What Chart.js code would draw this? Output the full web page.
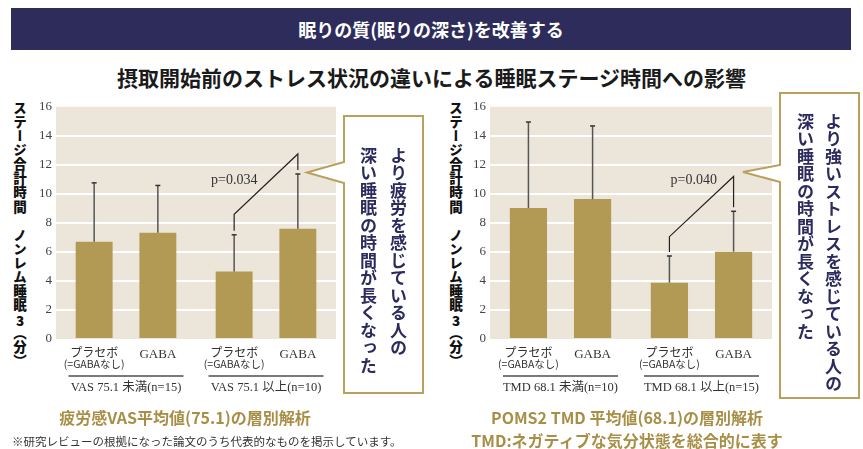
<!DOCTYPE html>
<html>
<head>
<meta charset="utf-8">
<script src="https://cdn.jsdelivr.net/npm/chart.js@4.4.1/dist/chart.umd.min.js"></script>
<style>
  body { margin: 0; width: 863px; height: 449px; background: #fff; position: relative; overflow: hidden;
         font-family: "Noto Sans CJK JP", sans-serif; }
  .abs { position: absolute; }
  #banner { left: 11px; top: 8px; width: 840px; height: 42px; background: #2d2c5b; color: #fff;
            font-weight: 700; font-size: 18px; line-height: 42px; text-align: center; }
  #sub { left: 0; top: 63px; width: 863px; text-align: center; font-weight: 700; font-size: 21px;
         line-height: 28px; color: #1a1a1a; }
  .ytitle { writing-mode: vertical-rl; font-weight: 900; font-size: 13.5px; line-height: 15px;
            letter-spacing: 0.6px; color: #111; top: 101px; white-space: nowrap; }
  .up { text-combine-upright: all; }
  .box { width: 310px; height: 305px; top: 95px; }
  .note { writing-mode: vertical-rl; font-weight: 700; font-size: 17px; color: #2c2b5e;
          letter-spacing: 0.5px; white-space: nowrap; }
  .gold { text-align: center; font-weight: 700; font-size: 16px; color: #a88f47; line-height: 22px; }
  #foot { left: 12px; top: 433px; font-size: 11.5px; color: #333; line-height: 16px; white-space: nowrap; }
  svg { position: absolute; left: 0; top: 0; }
</style>
</head>
<body>
<div id="banner" class="abs">眠りの質(眠りの深さ)を改善する</div>
<div id="sub" class="abs">摂取開始前のストレス状況の違いによる睡眠ステージ時間への影響</div>

<div class="abs ytitle" style="left:12px">ステージ合計時間　ノンレム睡眠<span class="up">3</span>（分）</div>
<div class="abs ytitle" style="left:448px">ステージ合計時間　ノンレム睡眠<span class="up">3</span>（分）</div>

<div class="abs box" style="left:30px"><canvas id="leftChart"></canvas></div>
<div class="abs box" style="left:464px"><canvas id="rightChart"></canvas></div>

<svg width="863" height="449">
  <path d="M344,116 L423,116 L423,393 L344,393 L344,183 L307,172.5 L344,162 Z" fill="#fff" stroke="#b9a05c" stroke-width="2"/>
  <path d="M780,93 L859,93 L859,398 L780,398 L780,182 L743,172 L780,165 Z" fill="#fff" stroke="#b9a05c" stroke-width="2"/>
</svg>
<div class="abs note" style="left:353px;top:147px;line-height:30px">より疲労を感じている人の<br>深い睡眠の時間が長くなった</div>
<div class="abs note" style="left:791px;top:113px;line-height:28px">より強いストレスを感じている人の<br>深い睡眠の時間が長くなった</div>

<div class="abs gold" style="left:0;top:406px;width:370px">疲労感VAS平均値(75.1)の層別解析</div>
<div class="abs gold" style="left:427px;top:406px;width:400px">POMS2 TMD 平均値(68.1)の層別解析</div>
<div class="abs gold" style="left:427px;top:429px;width:400px">TMD:ネガティブな気分状態を総合的に表す</div>
<div id="foot" class="abs">※研究レビューの根拠になった論文のうち代表的なものを掲示しています。</div>

<script>
// data
const barNames = ["プラセボ", "GABA"];
const placeboNote = "(=GABAなし)";

const leftGroups = ["VAS 75.1 未満(n=15)", "VAS 75.1 以上(n=10)"];
const leftPlacebo = [6.70, 4.65];
const leftPlaceboSD = [4.06, 2.53];
const leftGaba = [7.32, 7.59];
const leftGabaSD = [3.26, 3.78];
const leftP = { index: 1, text: "p=0.034", low: 8.6, high: 12.75, labelAt: 10.9 };

const rightGroups = ["TMD 68.1 未満(n=10)", "TMD 68.1 以上(n=15)"];
const rightPlacebo = [9.03, 3.88];
const rightPlaceboSD = [5.92, 1.84];
const rightGaba = [9.64, 6.02];
const rightGabaSD = [5.04, 2.78];
const rightP = { index: 1, text: "p=0.040", low: 7.05, high: 11.2, labelAt: 10.9 };

const yMin = 0, yMax = 16, yStep = 2;

const barColor = "#b29a55";
const plotColor = "#ece6da";
const serif = '"Liberation Serif", "Times New Roman", serif';
const jp = '"Noto Sans CJK JP", sans-serif';

const plotBg = {
  id: "plotBg",
  beforeDraw(chart) {
    const a = chart.chartArea, c = chart.ctx;
    c.save();
    c.fillStyle = plotColor;
    c.fillRect(a.left, a.top, a.right - a.left, a.bottom - a.top);
    c.restore();
  }
};

function extras(p) {
  return {
    id: "extras",
    afterDatasetsDraw(chart) {
      const c = chart.ctx, y = chart.scales.y;
      const tops = [];
      c.save();
      chart.data.datasets.forEach((ds, di) => {
        tops[di] = [];
        chart.getDatasetMeta(di).data.forEach((bar, i) => {
          const yt = y.getPixelForValue(ds.data[i] + ds.sd[i]);
          tops[di][i] = yt;
          c.strokeStyle = "#555";
          c.lineWidth = 1.5;
          c.beginPath(); c.moveTo(bar.x, bar.y); c.lineTo(bar.x, yt); c.stroke();
          c.strokeStyle = "#333";
          c.beginPath(); c.moveTo(bar.x - 2.5, yt); c.lineTo(bar.x + 2.5, yt); c.stroke();
        });
      });
      // significance bracket
      const b0 = chart.getDatasetMeta(0).data[p.index];
      const b1 = chart.getDatasetMeta(1).data[p.index];
      const yl = y.getPixelForValue(p.low), yh = y.getPixelForValue(p.high);
      c.strokeStyle = "#222";
      c.lineWidth = 1.2;
      c.beginPath();
      c.moveTo(b0.x, tops[0][p.index] - 4);
      c.lineTo(b0.x, yl);
      c.lineTo(b1.x, yh);
      c.lineTo(b1.x, tops[1][p.index] - 4);
      c.stroke();
      const ly = y.getPixelForValue(p.labelAt);
      const lx = b0.x + (yl - ly) / (yl - yh) * (b1.x - b0.x) - 12;
      c.fillStyle = "#333";
      c.font = "14px " + serif;
      c.textAlign = "right";
      c.textBaseline = "middle";
      c.fillText(p.text, lx, ly);
      c.restore();
    },
    afterDraw(chart) {
      const c = chart.ctx, a = chart.chartArea, x = chart.scales.x;
      c.save();
      c.textAlign = "center";
      c.textBaseline = "middle";
      c.fillStyle = "#333";
      chart.getDatasetMeta(0).data.forEach(bar => {
        c.font = "12px " + jp;
        c.fillText(barNames[0], bar.x, a.bottom + 13);
        c.font = "10.5px " + jp;
        c.fillText(placeboNote, bar.x, a.bottom + 25);
      });
      chart.getDatasetMeta(1).data.forEach(bar => {
        c.font = "13px " + serif;
        c.fillText(barNames[1], bar.x, a.bottom + 16);
      });
      chart.data.labels.forEach((g, i) => {
        const cx = x.getPixelForValue(i);
        c.strokeStyle = "#7a7a7a";
        c.lineWidth = 2;
        c.beginPath(); c.moveTo(cx - 57.5, a.bottom + 37); c.lineTo(cx + 57.5, a.bottom + 37); c.stroke();
        c.font = "12.5px " + serif + ", " + jp;
        c.fillText(g, cx, a.bottom + 49);
      });
      c.restore();
    }
  };
}

function makeChart(id, groups, placebo, placeboSD, gaba, gabaSD, p, padRight) {
  return new Chart(document.getElementById(id), {
    type: "bar",
    data: {
      labels: groups,
      datasets: [
        { label: barNames[0], data: placebo, sd: placeboSD, backgroundColor: barColor },
        { label: barNames[1], data: gaba, sd: gabaSD, backgroundColor: barColor }
      ]
    },
    options: {
      responsive: true,
      maintainAspectRatio: false,
      animation: false,
      categoryPercentage: 0.91,
      barPercentage: 0.58,
      layout: { padding: { top: 10, bottom: 61, right: padRight, left: 0 } },
      plugins: { legend: { display: false }, tooltip: { enabled: false } },
      scales: {
        x: { display: false },
        y: {
          min: yMin,
          max: yMax,
          afterFit(s) { s.width = 26; },
          ticks: { stepSize: yStep, padding: 4, color: "#444", font: { family: serif, size: 13 } },
          grid: {
            drawTicks: false,
            lineWidth: 2,
            color: ctx => (ctx.tick && (ctx.tick.value === yMin || ctx.tick.value === yMax)) ? "rgba(0,0,0,0)" : "#ffffff"
          },
          border: { display: false }
        }
      }
    },
    plugins: [plotBg, extras(p)]
  });
}

makeChart("leftChart", leftGroups, leftPlacebo, leftPlaceboSD, leftGaba, leftGabaSD, leftP, 4);
makeChart("rightChart", rightGroups, rightPlacebo, rightPlaceboSD, rightGaba, rightGabaSD, rightP, 2);
</script>
</body>
</html>
